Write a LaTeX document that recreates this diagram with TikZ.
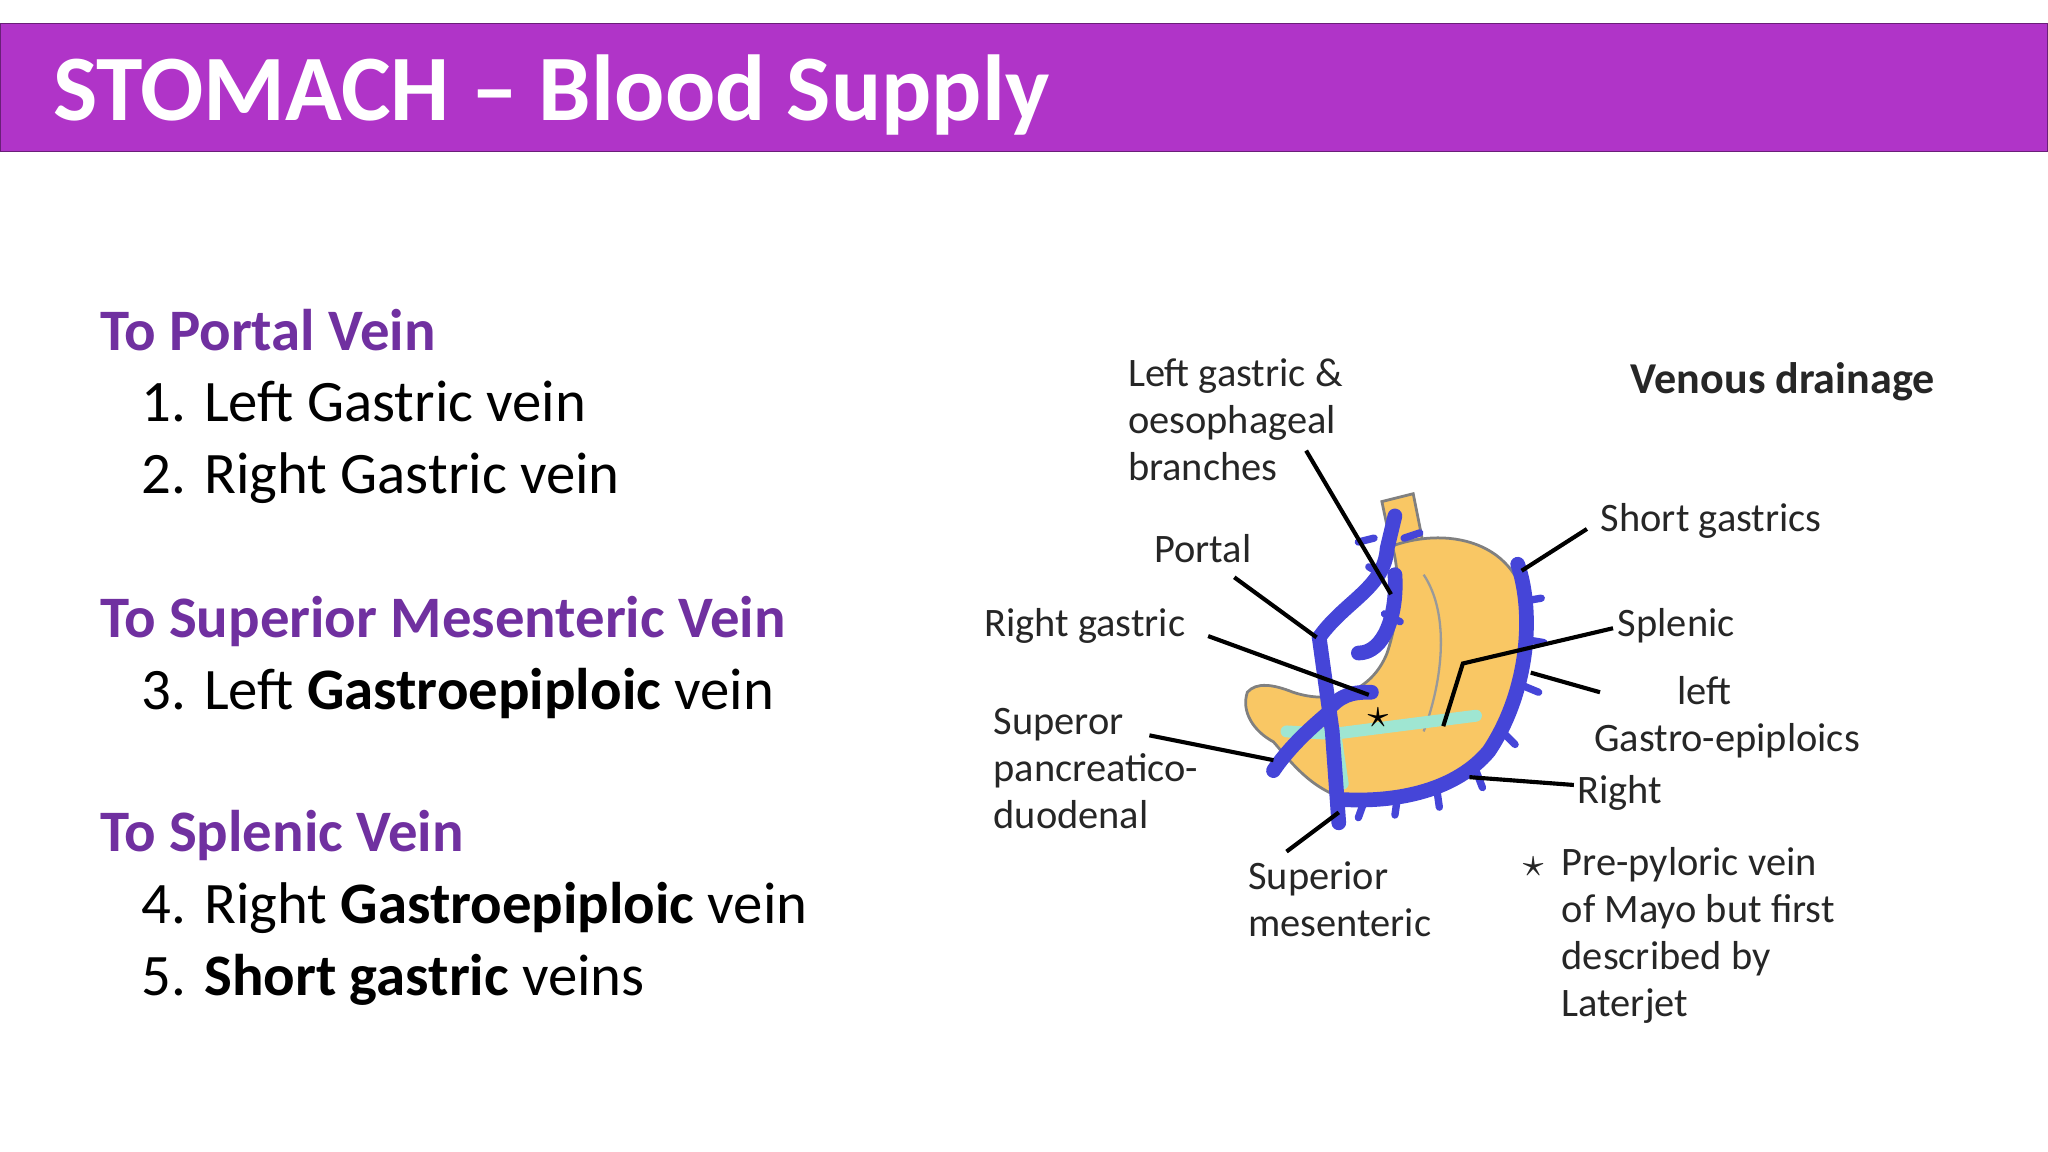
\documentclass[tikz,border=0pt]{standalone}
\usepackage{fontspec}
\setmainfont{Carlito}
\usetikzlibrary{positioning}
\definecolor{titlebar}{HTML}{B034C8}
\definecolor{headpurple}{HTML}{7030A0}
\definecolor{veinblue}{HTML}{4545D8}
\definecolor{stomachfill}{HTML}{F9C764}
\definecolor{epiploic}{HTML}{9FE6D2}
\begin{document}
\begin{tikzpicture}[x=0.01cm,y=-0.01cm]
  \tikzset{head/.style={anchor=base west,inner sep=0pt,text=headpurple,font=\fontsize{12.8}{15}\selectfont\bfseries},
    item/.style={anchor=base west,inner sep=0pt,font=\fontsize{12.8}{15}\selectfont},
    lab/.style={anchor=base west,inner sep=0pt,align=left,font=\fontsize{8.8}{10.2}\selectfont,text=black!85},
    leader/.style={black,line width=0.9pt},
    vein/.style={veinblue,line width=3.2pt,line cap=round,line join=round},
    twig/.style={veinblue,line width=1.6pt,line cap=round}
  }
  \useasboundingbox (0,0) rectangle (1568,882);
  \fill[white] (0,0) rectangle (1568,882);
  \fill[titlebar,draw=titlebar!60!black] (0,18) rectangle (1568,116);
  \node[anchor=base west,inner sep=0pt,text=white,font=\fontsize{20.4}{24}\selectfont\bfseries] (title) at (40,92) {STOMACH -- Blood Supply};

  % list on the left
  \node[head] (h1) at (76,268) {To Portal Vein};
  \node[item] (i1) at (108,323) {1. Left Gastric vein};
  \node[item] (i2) at (108,378) {2. Right Gastric vein};
  \node[head] (h2) at (76,488) {To Superior Mesenteric Vein};
  \node[item] (i3) at (108,543) {3. Left \textbf{Gastroepiploic} vein};
  \node[head] (h3) at (76,652) {To Splenic Vein};
  \node[item] (i4) at (108,707) {4. Right \textbf{Gastroepiploic} vein};
  \node[item] (i5) at (108,762) {5. \textbf{Short gastric} veins};

  % stomach
  \fill[stomachfill,draw=black!50,line width=0.6pt] (1058,384) -- (1082,378) -- (1090,418) -- (1066,422) -- cycle;
  \fill[stomachfill,draw=black!50,line width=0.6pt] (1066,418)
    .. controls (1110,402) and (1170,415) .. (1170,480)
    .. controls (1170,560) and (1120,612) .. (1050,614)
    .. controls (1010,614) and (990,585) .. (975,568)
    .. controls (960,560) and (950,545) .. (955,530)
    .. controls (962,522) and (975,524) .. (990,530)
    .. controls (1020,540) and (1050,530) .. (1062,500)
    .. controls (1072,470) and (1072,440) .. (1066,418) -- cycle;
  \draw[black!40,line width=0.5pt] (1090,440) .. controls (1110,470) and (1105,520) .. (1090,560);

  % gastroepiploic arcade
  \draw[epiploic,line width=2.6pt,line cap=round] (1020,562) -- (1130,548);
  \draw[epiploic,line width=2.6pt,line cap=round] (1022,560) -- (1028,600);
  \draw[epiploic,line width=2.6pt,line cap=round] (985,560) -- (1022,562);

  % veins
  \draw[vein] (1010,488) -- (1020,560) -- (1025,630);
  \draw[vein] (1010,488) .. controls (1030,460) and (1060,450) .. (1062,420) -- (1068,395);
  \draw[vein] (1040,500) .. controls (1060,500) and (1070,470) .. (1068,440);
  \draw[vein] (1020,540) .. controls (1030,530) and (1040,530) .. (1050,530);
  \draw[vein] (975,590) .. controls (985,575) and (1000,560) .. (1018,545);
  \draw[vein] (1162,432) .. controls (1175,470) and (1170,530) .. (1140,575)
    .. controls (1115,605) and (1070,615) .. (1025,612);
  \foreach \a/\b/\c/\d in {1168/460/1180/458, 1170/490/1182/492, 1166/525/1178/530,
      1150/560/1160/570, 1130/590/1135/603, 1100/604/1102/618, 1070/610/1068/624,
      1045/612/1040/626, 1040/415/1052/412, 1058/440/1048/434, 1060/470/1072/476,
      1075/412/1087/408}
    \draw[twig] (\a,\b) -- (\c,\d);
  \node[font=\fontsize{9}{9}\selectfont] (star) at (1055,550) {$\star$};

  % labels
  \node[lab] (lgas) at (863,368) {Left gastric \&\\oesophageal\\branches};
  \draw[leader] (1000,345) -- (1065,455);
  \node[lab] (portal) at (883,431) {Portal};
  \draw[leader] (945,442) -- (1008,488);
  \node[lab] (rgas) at (753,487) {Right gastric};
  \draw[leader] (925,487) -- (1048,532);
  \node[lab] (spd) at (760,634) {Superor\\pancreatico-\\duodenal};
  \draw[leader] (880,563) -- (975,582);
  \node[lab] (smes) at (955,717) {Superior\\mesenteric};
  \draw[leader] (985,652) -- (1025,622);
  \node[lab,font=\fontsize{9.6}{11}\selectfont\bfseries] (venous) at (1248,301) {Venous drainage};
  \node[lab] (short) at (1225,407) {Short gastrics};
  \draw[leader] (1215,405) -- (1165,437);
  \node[lab] (splenic) at (1238,487) {Splenic};
  \draw[leader] (1235,481) -- (1120,508) -- (1105,556);
  \node[lab] (lge) at (1220,575) {\hspace*{18pt}left\\Gastro-epiploics};
  \draw[leader] (1225,530) -- (1172,515);
  \node[lab] (right) at (1207,615) {Right};
  \draw[leader] (1205,601) -- (1125,595);
  \node[lab] (mstar) at (1165,671) {$\star$};
  \node[lab] (mayo) at (1195,778) {Pre-pyloric vein\\of Mayo but first\\described by\\Laterjet};
\end{tikzpicture}
\end{document}
